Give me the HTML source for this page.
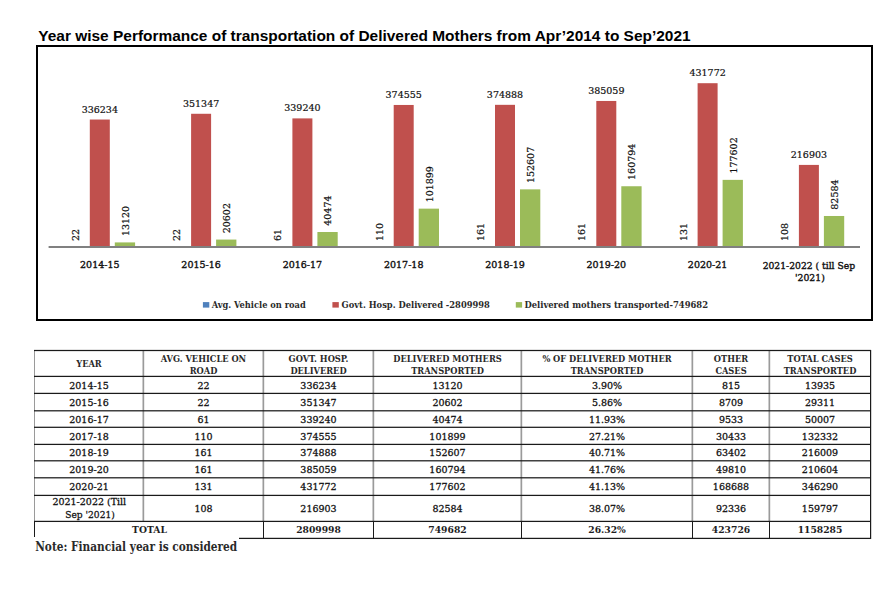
<!DOCTYPE html><html><head><meta charset="utf-8"><title>Delivered Mothers Transportation</title><style>html,body{margin:0;padding:0;background:#fff;}svg{display:block;}.t{font-family:"Liberation Sans", Arial, sans-serif;font-weight:bold;}.v{font-family:'DejaVu Serif', 'Liberation Serif', serif;font-size:9.5px;fill:#111;stroke:#111;stroke-width:0.2px;}.r{font-family:'DejaVu Serif', 'Liberation Serif', serif;font-size:9.5px;fill:#111;stroke:#111;stroke-width:0.28px;}.c{stroke-width:0.38px;}.tb{font-family:'DejaVu Serif', 'Liberation Serif', serif;font-weight:bold;font-size:9.2px;fill:#1e1e1e;}.b{font-family:'DejaVu Serif', 'Liberation Serif', serif;font-stretch:condensed;font-weight:bold;font-size:9.2px;fill:#2a2a2a;}</style></head><body><svg width="889" height="613" viewBox="0 0 889 613"><rect width="889" height="613" fill="#fff"/><text class="t" x="38.3" y="40.7" font-size="15" textLength="652.3" lengthAdjust="spacingAndGlyphs">Year wise Performance of transportation of Delivered Mothers from Apr’2014 to Sep’2021</text><rect x="37" y="46" width="835" height="274" fill="none" stroke="#000" stroke-width="2"/><rect x="89.80" y="119.53" width="20" height="127.47" fill="#C0504D"/><rect x="114.80" y="242.41" width="20.3" height="4.59" fill="#9BBB59"/><text class="v" x="99.80" y="112.53" text-anchor="middle">336234</text><text class="v" transform="translate(128.80,236.11) rotate(-90)">13120</text><text class="v" transform="translate(78.70,241.09) rotate(-90)">22</text><text class="r c" x="99.80" y="268.3" text-anchor="middle">2014-15</text><rect x="191.10" y="113.78" width="20" height="133.22" fill="#C0504D"/><rect x="216.10" y="239.57" width="20.3" height="7.43" fill="#9BBB59"/><text class="v" x="201.10" y="106.78" text-anchor="middle">351347</text><text class="v" transform="translate(230.10,233.27) rotate(-90)">20602</text><text class="v" transform="translate(180.00,241.09) rotate(-90)">22</text><text class="r c" x="201.10" y="268.3" text-anchor="middle">2015-16</text><rect x="292.40" y="118.39" width="20" height="128.61" fill="#C0504D"/><rect x="317.40" y="232.01" width="20.3" height="14.99" fill="#9BBB59"/><text class="v" x="302.40" y="111.39" text-anchor="middle">339240</text><text class="v" transform="translate(331.40,225.71) rotate(-90)">40474</text><text class="v" transform="translate(281.30,241.08) rotate(-90)">61</text><text class="r c" x="302.40" y="268.3" text-anchor="middle">2016-17</text><rect x="393.70" y="104.96" width="20" height="142.04" fill="#C0504D"/><rect x="418.70" y="208.65" width="20.3" height="38.35" fill="#9BBB59"/><text class="v" x="403.70" y="97.96" text-anchor="middle">374555</text><text class="v" transform="translate(432.70,202.35) rotate(-90)">101899</text><text class="v" transform="translate(382.60,241.06) rotate(-90)">110</text><text class="r c" x="403.70" y="268.3" text-anchor="middle">2017-18</text><rect x="495.00" y="104.83" width="20" height="142.17" fill="#C0504D"/><rect x="520.00" y="189.36" width="20.3" height="57.64" fill="#9BBB59"/><text class="v" x="505.00" y="97.83" text-anchor="middle">374888</text><text class="v" transform="translate(534.00,183.06) rotate(-90)">152607</text><text class="v" transform="translate(483.90,241.04) rotate(-90)">161</text><text class="r c" x="505.00" y="268.3" text-anchor="middle">2018-19</text><rect x="596.30" y="100.96" width="20" height="146.04" fill="#C0504D"/><rect x="621.30" y="186.25" width="20.3" height="60.75" fill="#9BBB59"/><text class="v" x="606.30" y="93.96" text-anchor="middle">385059</text><text class="v" transform="translate(635.30,179.95) rotate(-90)">160794</text><text class="v" transform="translate(585.20,241.04) rotate(-90)">161</text><text class="r c" x="606.30" y="268.3" text-anchor="middle">2019-20</text><rect x="697.60" y="83.20" width="20" height="163.80" fill="#C0504D"/><rect x="722.60" y="179.86" width="20.3" height="67.14" fill="#9BBB59"/><text class="v" x="707.60" y="76.20" text-anchor="middle">431772</text><text class="v" transform="translate(736.60,173.56) rotate(-90)">177602</text><text class="v" transform="translate(686.50,241.05) rotate(-90)">131</text><text class="r c" x="707.60" y="268.3" text-anchor="middle">2020-21</text><rect x="798.90" y="164.91" width="20" height="82.09" fill="#C0504D"/><rect x="823.90" y="215.99" width="20.3" height="31.01" fill="#9BBB59"/><text class="v" x="808.90" y="157.91" text-anchor="middle">216903</text><text class="v" transform="translate(837.90,209.69) rotate(-90)">82584</text><text class="v" transform="translate(787.80,241.06) rotate(-90)">108</text><text class="r c" x="808.90" y="268.6" text-anchor="middle" textLength="92.5" lengthAdjust="spacingAndGlyphs">2021-2022 ( till Sep</text><text class="r c" x="809.90" y="281.1" text-anchor="middle" textLength="29.8" lengthAdjust="spacingAndGlyphs">'2021)</text><rect x="48.6" y="246" width="811.4" height="2" fill="#808080"/><rect x="202.9" y="302.1" width="6.4" height="5.5" fill="#4F81BD"/><text class="b" x="211.7" y="308.3" textLength="94" lengthAdjust="spacingAndGlyphs">Avg. Vehicle on road</text><rect x="332.4" y="302.1" width="6.4" height="5.5" fill="#C0504D"/><text class="b" x="341.6" y="308.3" textLength="148.3" lengthAdjust="spacingAndGlyphs">Govt. Hosp. Delivered -2809998</text><rect x="515.8" y="302.1" width="6.3" height="5.5" fill="#9BBB59"/><text class="b" x="524.4" y="308.3" textLength="183.6" lengthAdjust="spacingAndGlyphs">Delivered mothers transported-749682</text><rect x="142.5" y="350" width="1.7" height="171" fill="#9a9a9a"/><rect x="262.5" y="350" width="1.7" height="171" fill="#9a9a9a"/><rect x="372.5" y="350" width="1.7" height="171" fill="#9a9a9a"/><rect x="520.5" y="350" width="1.7" height="171" fill="#9a9a9a"/><rect x="691.5" y="350" width="1.7" height="171" fill="#9a9a9a"/><rect x="768.5" y="350" width="1.7" height="171" fill="#9a9a9a"/><rect x="34" y="350" width="1" height="171" fill="#9a9a9a"/><rect x="34" y="521" width="1" height="18" fill="#1a1a1a"/><rect x="263" y="521" width="1" height="18" fill="#1a1a1a"/><rect x="373" y="521" width="1" height="18" fill="#1a1a1a"/><rect x="521" y="521" width="1" height="18" fill="#1a1a1a"/><rect x="692" y="521" width="1" height="18" fill="#1a1a1a"/><rect x="769" y="521" width="1" height="18" fill="#1a1a1a"/><rect x="870" y="350" width="1.2" height="189" fill="#1a1a1a"/><rect x="34" y="349.88" width="837" height="1.24" fill="#1a1a1a"/><rect x="34" y="375.78" width="837" height="1.24" fill="#1a1a1a"/><rect x="34" y="392.78" width="837" height="1.24" fill="#1a1a1a"/><rect x="34" y="410.18" width="837" height="1.24" fill="#1a1a1a"/><rect x="34" y="426.68" width="837" height="1.24" fill="#1a1a1a"/><rect x="34" y="443.78" width="837" height="1.24" fill="#1a1a1a"/><rect x="34" y="460.18" width="837" height="1.24" fill="#1a1a1a"/><rect x="34" y="477.18" width="837" height="1.24" fill="#1a1a1a"/><rect x="34" y="494.78" width="837" height="1.24" fill="#1a1a1a"/><rect x="34" y="520.78" width="837" height="1.24" fill="#1a1a1a"/><rect x="34" y="537.78" width="837" height="1.24" fill="#1a1a1a"/><text class="b" x="89.0" y="367.1" text-anchor="middle">YEAR</text><text class="b" x="203.5" y="361.5" text-anchor="middle">AVG. VEHICLE ON</text><text class="b" x="203.5" y="373.8" text-anchor="middle">ROAD</text><text class="b" x="318.5" y="361.5" text-anchor="middle">GOVT. HOSP.</text><text class="b" x="318.5" y="373.8" text-anchor="middle">DELIVERED</text><text class="b" x="447.5" y="361.5" text-anchor="middle">DELIVERED MOTHERS</text><text class="b" x="447.5" y="373.8" text-anchor="middle">TRANSPORTED</text><text class="b" x="607.0" y="361.5" text-anchor="middle">% OF DELIVERED MOTHER</text><text class="b" x="607.0" y="373.8" text-anchor="middle">TRANSPORTED</text><text class="b" x="731.0" y="361.5" text-anchor="middle">OTHER</text><text class="b" x="731.0" y="373.8" text-anchor="middle">CASES</text><text class="b" x="820.0" y="361.5" text-anchor="middle">TOTAL CASES</text><text class="b" x="820.0" y="373.8" text-anchor="middle">TRANSPORTED</text><text class="r" x="89.0" y="388.8" text-anchor="middle">2014-15</text><text class="r" x="203.5" y="388.8" text-anchor="middle">22</text><text class="r" x="318.5" y="388.8" text-anchor="middle">336234</text><text class="r" x="447.5" y="388.8" text-anchor="middle">13120</text><text class="r" x="607.0" y="388.8" text-anchor="middle">3.90%</text><text class="r" x="731.0" y="388.8" text-anchor="middle">815</text><text class="r" x="820.0" y="388.8" text-anchor="middle">13935</text><text class="r" x="89.0" y="405.8" text-anchor="middle">2015-16</text><text class="r" x="203.5" y="405.8" text-anchor="middle">22</text><text class="r" x="318.5" y="405.8" text-anchor="middle">351347</text><text class="r" x="447.5" y="405.8" text-anchor="middle">20602</text><text class="r" x="607.0" y="405.8" text-anchor="middle">5.86%</text><text class="r" x="731.0" y="405.8" text-anchor="middle">8709</text><text class="r" x="820.0" y="405.8" text-anchor="middle">29311</text><text class="r" x="89.0" y="422.8" text-anchor="middle">2016-17</text><text class="r" x="203.5" y="422.8" text-anchor="middle">61</text><text class="r" x="318.5" y="422.8" text-anchor="middle">339240</text><text class="r" x="447.5" y="422.8" text-anchor="middle">40474</text><text class="r" x="607.0" y="422.8" text-anchor="middle">11.93%</text><text class="r" x="731.0" y="422.8" text-anchor="middle">9533</text><text class="r" x="820.0" y="422.8" text-anchor="middle">50007</text><text class="r" x="89.0" y="439.8" text-anchor="middle">2017-18</text><text class="r" x="203.5" y="439.8" text-anchor="middle">110</text><text class="r" x="318.5" y="439.8" text-anchor="middle">374555</text><text class="r" x="447.5" y="439.8" text-anchor="middle">101899</text><text class="r" x="607.0" y="439.8" text-anchor="middle">27.21%</text><text class="r" x="731.0" y="439.8" text-anchor="middle">30433</text><text class="r" x="820.0" y="439.8" text-anchor="middle">132332</text><text class="r" x="89.0" y="456.3" text-anchor="middle">2018-19</text><text class="r" x="203.5" y="456.3" text-anchor="middle">161</text><text class="r" x="318.5" y="456.3" text-anchor="middle">374888</text><text class="r" x="447.5" y="456.3" text-anchor="middle">152607</text><text class="r" x="607.0" y="456.3" text-anchor="middle">40.71%</text><text class="r" x="731.0" y="456.3" text-anchor="middle">63402</text><text class="r" x="820.0" y="456.3" text-anchor="middle">216009</text><text class="r" x="89.0" y="472.8" text-anchor="middle">2019-20</text><text class="r" x="203.5" y="472.8" text-anchor="middle">161</text><text class="r" x="318.5" y="472.8" text-anchor="middle">385059</text><text class="r" x="447.5" y="472.8" text-anchor="middle">160794</text><text class="r" x="607.0" y="472.8" text-anchor="middle">41.76%</text><text class="r" x="731.0" y="472.8" text-anchor="middle">49810</text><text class="r" x="820.0" y="472.8" text-anchor="middle">210604</text><text class="r" x="89.0" y="490.3" text-anchor="middle">2020-21</text><text class="r" x="203.5" y="490.3" text-anchor="middle">131</text><text class="r" x="318.5" y="490.3" text-anchor="middle">431772</text><text class="r" x="447.5" y="490.3" text-anchor="middle">177602</text><text class="r" x="607.0" y="490.3" text-anchor="middle">41.13%</text><text class="r" x="731.0" y="490.3" text-anchor="middle">168688</text><text class="r" x="820.0" y="490.3" text-anchor="middle">346290</text><text class="r" x="89.3" y="505.2" text-anchor="middle">2021-2022 (Till</text><text class="r" x="90" y="517.8" text-anchor="middle" textLength="49.5" lengthAdjust="spacingAndGlyphs">Sep '2021)</text><text class="r" x="203.5" y="512.3" text-anchor="middle">108</text><text class="r" x="318.5" y="512.3" text-anchor="middle">216903</text><text class="r" x="447.5" y="512.3" text-anchor="middle">82584</text><text class="r" x="607.0" y="512.3" text-anchor="middle">38.07%</text><text class="r" x="731.0" y="512.3" text-anchor="middle">92336</text><text class="r" x="820.0" y="512.3" text-anchor="middle">159797</text><text class="tb" x="149.5" y="533.3" text-anchor="middle">TOTAL</text><text class="tb" x="318.5" y="533.3" text-anchor="middle">2809998</text><text class="tb" x="447.5" y="533.3" text-anchor="middle">749682</text><text class="tb" x="607.0" y="533.3" text-anchor="middle">26.32%</text><text class="tb" x="731.0" y="533.3" text-anchor="middle">423726</text><text class="tb" x="820.0" y="533.3" text-anchor="middle">1158285</text><rect x="33" y="537" width="206" height="20" fill="#fff"/><text class="b" x="35.2" y="551" style="font-size:12px;font-stretch:condensed" textLength="202" lengthAdjust="spacingAndGlyphs">Note: Financial year is considered</text></svg></body></html>
